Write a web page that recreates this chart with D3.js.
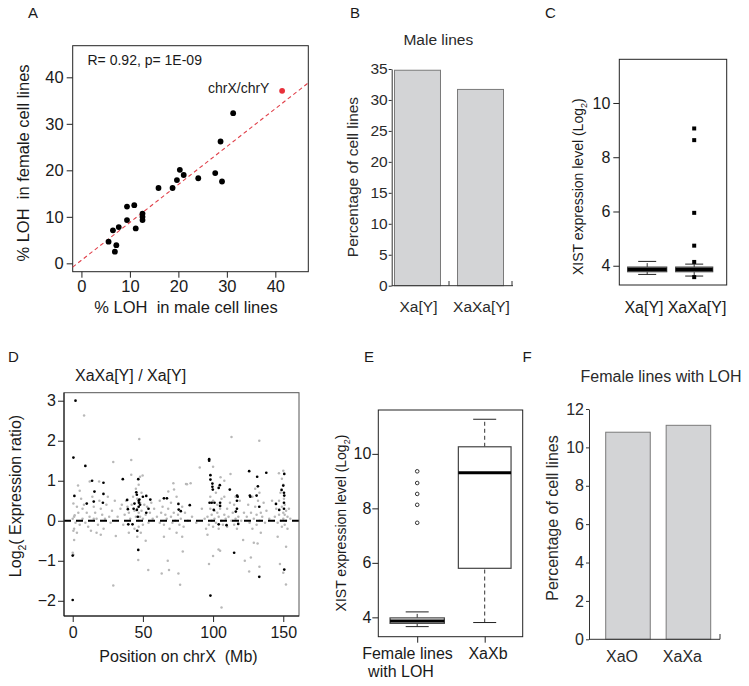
<!DOCTYPE html>
<html><head><meta charset="utf-8">
<script src="https://cdn.jsdelivr.net/npm/d3@7"></script>
<style>
body{margin:0;background:#fff}
svg text{font-family:"Liberation Sans",Arial,Helvetica,sans-serif;fill:#1a1a1a;white-space:pre}
</style>
</head><body>
<svg id="c" width="749" height="686"></svg>
<script>
// ---------------- DATA ----------------
// Panel A: % LOH per chromosome
const maleLOH   = [5.6,6.5,7.2,6.9,7.7,9.4,9.4,10.9,11.2,12.6,12.6,12.6,15.9,18.8,19.7,20.3,21.1,24.1,27.6,29.0,28.7,31.3];
const femaleLOH = [4.65,7.1,3.9,2.5,7.8,12.2,9.3,12.5,7.5,10.7,10.0,9.3,16.2,16.2,17.9,20.1,19.0,18.3,19.4,17.6,26.2,32.3];
const chrXY = {male: 41.4, female: 37.1, label: "chrX/chrY"};
const fitA = {intercept: 0.66, slope: 0.815};
const ticksA = [0,10,20,30,40];
const statA = "R= 0.92, p= 1E-09";

// Panel B: male lines
const catB = ["Xa[Y]","XaXa[Y]"];
const valB = [34.8, 31.7];
const ticksB = [0,5,10,15,20,25,30,35];

// Panel C: XIST expression, male lines (box stats: lowWhisker, q1, median, q3, highWhisker)
const catC = ["Xa[Y]","XaXa[Y]"];
const statsC = [[3.68,3.78,3.86,3.95,4.16],[3.62,3.78,3.86,3.95,4.06]];
const outC = [[],[9.06,8.63,5.95,4.74,4.14,3.58]];
const ticksCE = [4,6,8,10];

// Panel D: log2 expression ratio along chrX
const dBlack = [[2,3.0],[0.5,1.58],[1.2,0.62],[0,-0.87],[0,-1.98],[9,1.37],[10,0.43],[13.8,1.0],[15.5,0.73],[15,0.48],
 [21.9,0.95],[21.9,0.67],[21.5,0.45],[35.7,1.04],[38.8,0.52],[39.3,0.29],[39.6,-0.09],[42.6,-0.09],[44,0.43],[45.3,0.71],
 [45.7,0.65],[46.7,1.04],[45.7,0.27],[46.4,0.1],[46,-0.25],[46.7,-0.73],[47,0.5],[47.2,0.45],[47,0.35],[47.5,0.53],
 [48,0.4],[50,0.6],[52.4,0.62],[55.3,0.53],[52.4,0.2],[54,0.3],[65,0.56],[67.1,0.56],[75.3,0.42],[75.5,0.28],
 [77,0.24],[83.4,0.39],[97.2,1.54],[97.2,1.5],[98.1,1.14],[98.1,1.03],[99.5,0.93],[99.5,0.85],[99.8,0.78],[97.5,0.45],
 [99,0.45],[101,0.45],[100.5,0.27],[104,0.82],[104.8,0.89],[105,0.45],[105,0.37],[104,-0.09],[109.6,-0.11],[111.9,0.78],
 [115,-0.8],[117.1,0.63],[117.5,0.6],[117,0.5],[116.2,0.23],[117.9,-0.08],[117,0.3],[125.7,1.24],[126.2,0.63],[126.5,0.6],
 [131.4,1.1],[131.9,0.86],[131,0.63],[132.9,0.35],[132.9,-1.4],[137.9,1.2],[144.8,0.42],[147.1,0.27],[148.8,0.77],[150.7,1.17],
 [150,0.88],[150.5,0.7],[150.7,0.63],[150.5,0.45],[150.5,0.3],[150.7,-1.22],[98.1,-1.87],[43.4,0.3]];
const dGray = [[0,-0.8],[0.5,-0.85],[1,-0.48],[1,-0.2],[0,0.05],[1,0.1],[2,-0.05],[0.5,0.43],[3,0.35],[4,0.2],[1.4,0.14],[0.5,-0.25],
 [8.1,2.63],[3.8,0.88],[5,0.75],[6,0.55],[8,0.4],[7,0.3],[10,0.2],[12,0.1],[12.1,0.98],[14,0.6],[15,0.35],[16,0.2],[17,0.05],
 [18,-0.1],[18.8,0.98],[19,0.5],[20,0.3],[21,0.15],[22,-0.2],[23,0.05],[24,0.4],[25,0.6],[13,-0.25],[9,-0.05],[11,-0.15],
 [5,-0.1],[7,0.05],[3,-0.3],[17,-0.3],[20,-0.35],[26,0.1],[28,0.25],[27,-0.05],[15,0.05],
 [28.9,1.47],[30.7,-0.38],[28.9,-1.62],[32,0.1],[34,0.3],[30,0.5],
 [41.7,1.52],[41.7,1.15],[47.4,2.04],[49.8,1.13],[38,0.5],[39,0.35],[40,0.2],[41,0.05],[42,0.4],[43,0.6],[44,0.25],[45,0.1],
 [45,0.8],[46,0.55],[46,0.3],[47,0.2],[47,0.0],[47,-0.15],[48,0.45],[48,0.1],[48.5,-0.3],[49,0.7],[49,0.25],[50,0.05],
 [50,-0.1],[51,0.4],[52,0.15],[53,0.35],[54,-0.05],[55,0.2],[56,0.45],[57,0.05],[44,-0.2],[46,-0.4],[46.7,-0.98],[53.8,-1.23],
 [36,-0.1],[37,0.15],[35,0.4],[40,-0.3],[52,-0.5],[47,0.9],[48,1.1],[58,0.3],
 [63.4,-1.32],[68.6,-1.23],[67.7,-1.0],[75.3,-1.32],[76.5,-1.6],[78.4,-0.77],[71.7,0.94],[68.1,0.73],[72.2,0.78],[80.7,0.92],
 [60,0.1],[62,-0.05],[63,0.2],[64,0.35],[65,-0.1],[66,0.15],[67,0.05],[68,0.3],[69,-0.2],[70,0.1],[70,0.45],[71,-0.05],
 [72,0.2],[73,0.0],[74,0.6],[74,-0.3],[75,0.15],[76,-0.1],[77,0.05],[78,0.35],[79,-0.15],[80,0.2],[81.4,0.91],[84,0.94],
 [82,0.0],[85,0.1],[88,-0.05],[90.5,1.33],[92,0.3],[94,0.05],[95,-0.2],[65,-0.4],[62,0.5],[78,-0.4],
 [113.1,2.09],[100,1.35],[112.4,1.17],[105.3,1.09],[106,-2.17],[97.1,-1.08],[100,-0.88],[103.9,-0.72],[105,-0.75],[96,0.1],
 [97,-0.1],[98,0.3],[98,0.6],[99,0.0],[99,0.15],[100,0.5],[100,-0.15],[101,0.25],[101,0.05],[102,0.7],[102,-0.05],[103,0.2],
 [103,0.4],[104,-0.2],[104,0.1],[105,0.3],[106,0.0],[106,0.55],[107,-0.1],[108,0.15],[108,0.6],[109,0.05],[110,0.3],[110,-0.15],
 [111,0.1],[112,0.45],[113,0.0],[114,0.2],[115,-0.1],[115,0.4],[116,0.05],[116,0.6],[117,0.3],[117,-0.2],[118,0.1],[119,0.5],
 [120,0.0],[121.4,-0.48],[122,0.2],[122.6,-1.0],[108,1.0],[96,-0.35],
 [132.9,2.0],[126.9,-0.92],[125.7,-1.27],[131.7,-0.57],[124,0.1],[125,0.4],[126,-0.05],[127,0.2],[128,0.6],[128,-0.2],[129,0.05],
 [130,0.35],[130,0.8],[131,-0.1],[131,0.15],[132,0.5],[133,0.0],[133,0.7],[134,0.2],[134,-0.3],[135,0.1],[136,0.45],[137,-0.05],
 [138,0.25],[140,0.05],[142,0.5],[129,-0.55],[133,-1.15],
 [146.9,1.19],[150,1.25],[147.6,-1.08],[151.9,-1.59],[152,-0.65],[150,0.9],[149,1.05],[144,0.1],[145,0.3],[146,-0.05],[147,0.5],
 [147,0.15],[148,0.0],[148,0.7],[149,0.35],[149,-0.15],[150,0.2],[150,0.05],[150.5,0.55],[151,-0.1],[151,0.15],[151,0.4],[152,0.0],
 [152,0.25],[153,-0.2],[153,0.1],[154,0.3],[155,0.05],[146,-0.4],[150,-1.3]];
const ticksDx = [0,50,100,150];
const ticksDy = [-2,-1,0,1,2,3];

// Panel E: XIST expression, female lines
const catE = ["Female lines\nwith LOH","XaXb"];
const statsE = [[3.66,3.78,3.87,3.98,4.2],[3.81,5.8,9.31,10.26,11.27]];
const outE = [[9.36,8.93,8.53,8.13,7.47],[]];

// Panel F: female lines with LOH
const catF = ["XaO","XaXa"];
const valF = [10.79, 11.15];
const ticksF = [0,2,4,6,8,10,12];

// ---------------- DRAWING ----------------
const svg = d3.select("#c");
function text(x,y,s,o={}){
  const t = svg.append("text").attr("x",x).attr("y",y)
    .attr("font-size",o.size||16).attr("text-anchor",o.anchor||"start");
  if(o.rot) t.attr("transform",`rotate(-90,${x},${y})`);
  if(o.fill) t.style("fill",o.fill);
  t.text(s);
  return t;
}
function styleAxis(g,size,col){
  g.attr("font-family",null).attr("font-size",null);
  g.selectAll("text").attr("font-size",size||16).style("fill",col||"#1a1a1a");
  g.selectAll("line").attr("stroke","#222");
}
function rotLog(x,y,pre,post,size){
  const t = svg.append("text").attr("transform",`translate(${x},${y}) rotate(-90)`)
    .attr("text-anchor","middle").attr("font-size",size);
  t.append("tspan").text(pre);
  t.append("tspan").attr("font-size",size*0.65).attr("dy",size*0.3).text("2");
  t.append("tspan").attr("dy",-size*0.3).text(post);
}

// Panel labels
text(28,18.3,"A",{size:15}); text(350,17.7,"B",{size:15}); text(545,18.3,"C",{size:15});
text(8,362,"D",{size:15}); text(364,362,"E",{size:15}); text(522.5,361.7,"F",{size:15});

// ----- Panel A -----
{
  const x = d3.scaleLinear().domain([-1.8,46.8]).range([72.7,308.3]);
  const y = d3.scaleLinear().domain([-1.8,46.8]).range([271.7,45.7]);
  const gy = svg.append("g").attr("transform","translate(72.7,0)")
    .call(d3.axisLeft(y).tickValues(ticksA).tickSize(6).tickPadding(3));
  gy.select(".domain").remove(); styleAxis(gy,16.5);
  const gx = svg.append("g").attr("transform","translate(0,271.7)")
    .call(d3.axisBottom(x).tickValues(ticksA).tickSize(6).tickPadding(3));
  gx.select(".domain").remove(); styleAxis(gx,16.5);
  svg.append("rect").attr("x",72.7).attr("y",45.7).attr("width",235.6).attr("height",226)
    .attr("fill","none").attr("stroke","#222").attr("stroke-width",1);
  const x0 = x.domain()[0], x1 = x.domain()[1];
  svg.append("line").attr("x1",x(x0)).attr("y1",y(fitA.intercept+fitA.slope*x0))
    .attr("x2",x(x1)).attr("y2",y(fitA.intercept+fitA.slope*x1))
    .attr("stroke","#e0404a").attr("stroke-width",1.1).attr("stroke-dasharray","4,3");
  svg.append("g").selectAll("circle").data(maleLOH).join("circle")
    .attr("cx",d=>x(d)).attr("cy",(d,i)=>y(femaleLOH[i])).attr("r",2.9).attr("fill","#000");
  svg.append("circle").attr("cx",x(chrXY.male)).attr("cy",y(chrXY.female)).attr("r",2.9).attr("fill","#e8303a");
  text(87.5,65,statA,{size:14});
  text(208,92.5,chrXY.label,{size:14});
  text(29,163,"% LOH  in female cell lines",{size:16.5,anchor:"middle",rot:true});
  text(186,313,"% LOH  in male cell lines",{size:16.5,anchor:"middle"});
}

// ----- Panel B -----
{
  const y = d3.scaleLinear().domain([0,35]).range([285.7,69]);
  const x = d3.scaleBand().domain(catB).range([394.5,503.5]).paddingInner(0.27).paddingOuter(0);
  svg.append("g").selectAll("rect").data(valB).join("rect")
    .attr("x",(d,i)=>x(catB[i])).attr("width",x.bandwidth())
    .attr("y",d=>y(d)).attr("height",d=>y(0)-y(d))
    .attr("fill","#d3d4d6").attr("stroke","#7a7a7a").attr("stroke-width",1);
  const gy = svg.append("g").attr("transform","translate(391.7,0)")
    .call(d3.axisLeft(y).tickValues(ticksB).tickSize(3).tickSizeOuter(0).tickPadding(1));
  gy.select(".domain").attr("stroke","#333"); styleAxis(gy,15.5,"#2a2a2a");
  gy.selectAll("line").attr("stroke","#333");
  const gap = x.step()*x.paddingInner()/2;
  svg.append("line").attr("x1",391.7).attr("x2",x(catB[1])+x.bandwidth()+gap+1).attr("y1",285.7).attr("y2",285.7).attr("stroke","#333");
  catB.forEach(c=>{
    const tx = x(c)+x.bandwidth()+gap;
    svg.append("line").attr("x1",tx).attr("x2",tx).attr("y1",281).attr("y2",285.7).attr("stroke","#333");
  });
  catB.forEach(c=>text(x(c)+x.bandwidth()/2+1,312,c,{size:15.5,anchor:"middle",fill:"#2a2a2a"}));
  text(438.3,45,"Male lines",{size:15.5,anchor:"middle",fill:"#2a2a2a"});
  text(358,177,"Percentage of cell lines",{size:15.5,anchor:"middle",rot:true,fill:"#2a2a2a"});
}

// box plot helper
function boxes(x,y,cats,stats,outs,bw,capw,opt){
  cats.forEach((c,i)=>{
    const cx = x(c), s = stats[i], w = bw[i];
    const g = svg.append("g");
    g.append("line").attr("x1",cx).attr("x2",cx).attr("y1",y(s[0])).attr("y2",y(s[1]))
      .attr("stroke","#333").attr("stroke-dasharray","4,3");
    g.append("line").attr("x1",cx).attr("x2",cx).attr("y1",y(s[3])).attr("y2",y(s[4]))
      .attr("stroke","#333").attr("stroke-dasharray","4,3");
    g.append("line").attr("x1",cx-capw).attr("x2",cx+capw).attr("y1",y(s[0])).attr("y2",y(s[0])).attr("stroke","#222");
    g.append("line").attr("x1",cx-capw).attr("x2",cx+capw).attr("y1",y(s[4])).attr("y2",y(s[4])).attr("stroke","#222");
    g.append("rect").attr("x",cx-w/2).attr("width",w).attr("y",y(s[3])).attr("height",y(s[1])-y(s[3]))
      .attr("fill",opt.fill).attr("stroke","#444").attr("stroke-width",1.2);
    g.append("line").attr("x1",cx-w/2).attr("x2",cx+w/2).attr("y1",y(s[2])).attr("y2",y(s[2]))
      .attr("stroke","#000").attr("stroke-width",3);
    outs[i].forEach(v=>{
      if(opt.square) g.append("rect").attr("x",cx-2).attr("y",y(v)-2).attr("width",4).attr("height",4).attr("fill","#000");
      else g.append("circle").attr("cx",cx).attr("cy",y(v)).attr("r",1.8).attr("fill","none").attr("stroke","#333").attr("stroke-width",1);
    });
  });
}

// ----- Panel C -----
{
  const y = d3.scaleLinear().domain([3.29,11.61]).range([285,59.3]);
  const x = d3.scalePoint().domain(catC).range([647.2,694.2]);
  const gy = svg.append("g").attr("transform","translate(619.3,0)")
    .call(d3.axisLeft(y).tickValues(ticksCE).tickSize(6).tickPadding(3));
  gy.select(".domain").remove(); styleAxis(gy,16);
  boxes(x,y,catC,statsC,outC,[39,37],9,{fill:"#6a6a6a",square:true});
  svg.append("rect").attr("x",619.3).attr("y",59.3).attr("width",107.4).attr("height",225.7)
    .attr("fill","none").attr("stroke","#222");
  text(644,313,catC[0],{size:16,anchor:"middle"});
  text(697,313,catC[1],{size:16,anchor:"middle"});
  rotLog(583,186.7,"XIST expression level (Log",")",14);
}

// ----- Panel D -----
{
  const x = d3.scaleLinear().domain([-6.2,161.2]).range([64,299]);
  const y = d3.scaleLinear().domain([-2.38,3.2]).range([616,392.7]);
  svg.append("g").selectAll("circle").data(dGray).join("circle")
    .attr("cx",d=>x(d[0])).attr("cy",d=>y(d[1])).attr("r",1.25).attr("fill","#b8b8b8");
  svg.append("line").attr("x1",64).attr("x2",299).attr("y1",y(0)).attr("y2",y(0))
    .attr("stroke","#000").attr("stroke-width",2).attr("stroke-dasharray","7,5");
  svg.append("g").selectAll("circle").data(dBlack).join("circle")
    .attr("cx",d=>x(d[0])).attr("cy",d=>y(d[1])).attr("r",1.35).attr("fill","#000");
  const gy = svg.append("g").attr("transform","translate(64,0)")
    .call(d3.axisLeft(y).tickValues(ticksDy).tickSize(6).tickPadding(2).tickFormat(d=>d<0?"\u2212"+(-d):d));
  gy.select(".domain").remove(); styleAxis(gy,16);
  const gx = svg.append("g").attr("transform","translate(0,616)")
    .call(d3.axisBottom(x).tickValues(ticksDx).tickSize(6).tickPadding(5));
  gx.select(".domain").remove(); styleAxis(gx,16);
  svg.append("rect").attr("x",64).attr("y",392.7).attr("width",235).attr("height",223.3)
    .attr("fill","none").attr("stroke","#555");
  svg.append("line").attr("x1",64).attr("x2",64).attr("y1",392.7).attr("y2",616).attr("stroke","#111");
  svg.append("line").attr("x1",64).attr("x2",299).attr("y1",616).attr("y2",616).attr("stroke","#111");
  text(75,381,"XaXa[Y] / Xa[Y]",{size:16});
  text(178.5,662,"Position on chrX  (Mb)",{size:16,anchor:"middle"});
  rotLog(21,496,"Log","( Expression ratio)",16);
}

// ----- Panel E -----
{
  const y = d3.scaleLinear().domain([3.29,11.61]).range([636.7,410]);
  const x = d3.scalePoint().domain(catE).range([417.2,484.7]);
  const gy = svg.append("g").attr("transform","translate(378.3,0)")
    .call(d3.axisLeft(y).tickValues(ticksCE).tickSize(6).tickPadding(1));
  gy.select(".domain").remove(); styleAxis(gy,16);
  const gx = svg.append("g").attr("transform","translate(0,636.7)")
    .call(d3.axisBottom(x).tickSize(6).tickFormat(""));
  gx.select(".domain").remove(); styleAxis(gx,16);
  boxes(x,y,catE,statsE,outE,[54.3,52.7],11.5,{fill:"#fff",square:false});
  svg.append("rect").attr("x",378.3).attr("y",410).attr("width",144.4).attr("height",226.7)
    .attr("fill","none").attr("stroke","#222");
  const l1 = catE[0].split("\n");
  text(407.5,659,l1[0],{size:16,anchor:"middle"});
  text(401,677,l1[1],{size:16,anchor:"middle"});
  text(488,659,catE[1],{size:16,anchor:"middle"});
  rotLog(346,523,"XIST expression level (Log",")",14);
}

// ----- Panel F -----
{
  const y = d3.scaleLinear().domain([0,12]).range([639.3,409]);
  const x = d3.scaleBand().domain(catF).range([605.7,710.7]).paddingInner(0.263).paddingOuter(0);
  svg.append("g").selectAll("rect").data(valF).join("rect")
    .attr("x",(d,i)=>x(catF[i])).attr("width",x.bandwidth())
    .attr("y",d=>y(d)).attr("height",d=>y(0)-y(d))
    .attr("fill","#d3d4d6").attr("stroke","#7a7a7a").attr("stroke-width",1);
  const gy = svg.append("g").attr("transform","translate(589,0)")
    .call(d3.axisLeft(y).tickValues(ticksF).tickSize(3).tickSizeOuter(0).tickPadding(2));
  gy.select(".domain").attr("stroke","#333"); styleAxis(gy,16,"#2a2a2a");
  gy.selectAll("line").attr("stroke","#333");
  svg.append("line").attr("x1",589).attr("x2",720).attr("y1",639.3).attr("y2",639.3).attr("stroke","#333");
  svg.append("line").attr("x1",720).attr("x2",720).attr("y1",634).attr("y2",639.3).attr("stroke","#333");
  catF.forEach(c=>text(x(c)+x.bandwidth()/2-6,661.7,c,{size:16,anchor:"middle",fill:"#2a2a2a"}));
  text(661,381.7,"Female lines with LOH",{size:16,anchor:"middle",fill:"#2a2a2a"});
  text(558,518,"Percentage of cell lines",{size:16,anchor:"middle",rot:true,fill:"#2a2a2a"});
}
</script>
</body></html>
